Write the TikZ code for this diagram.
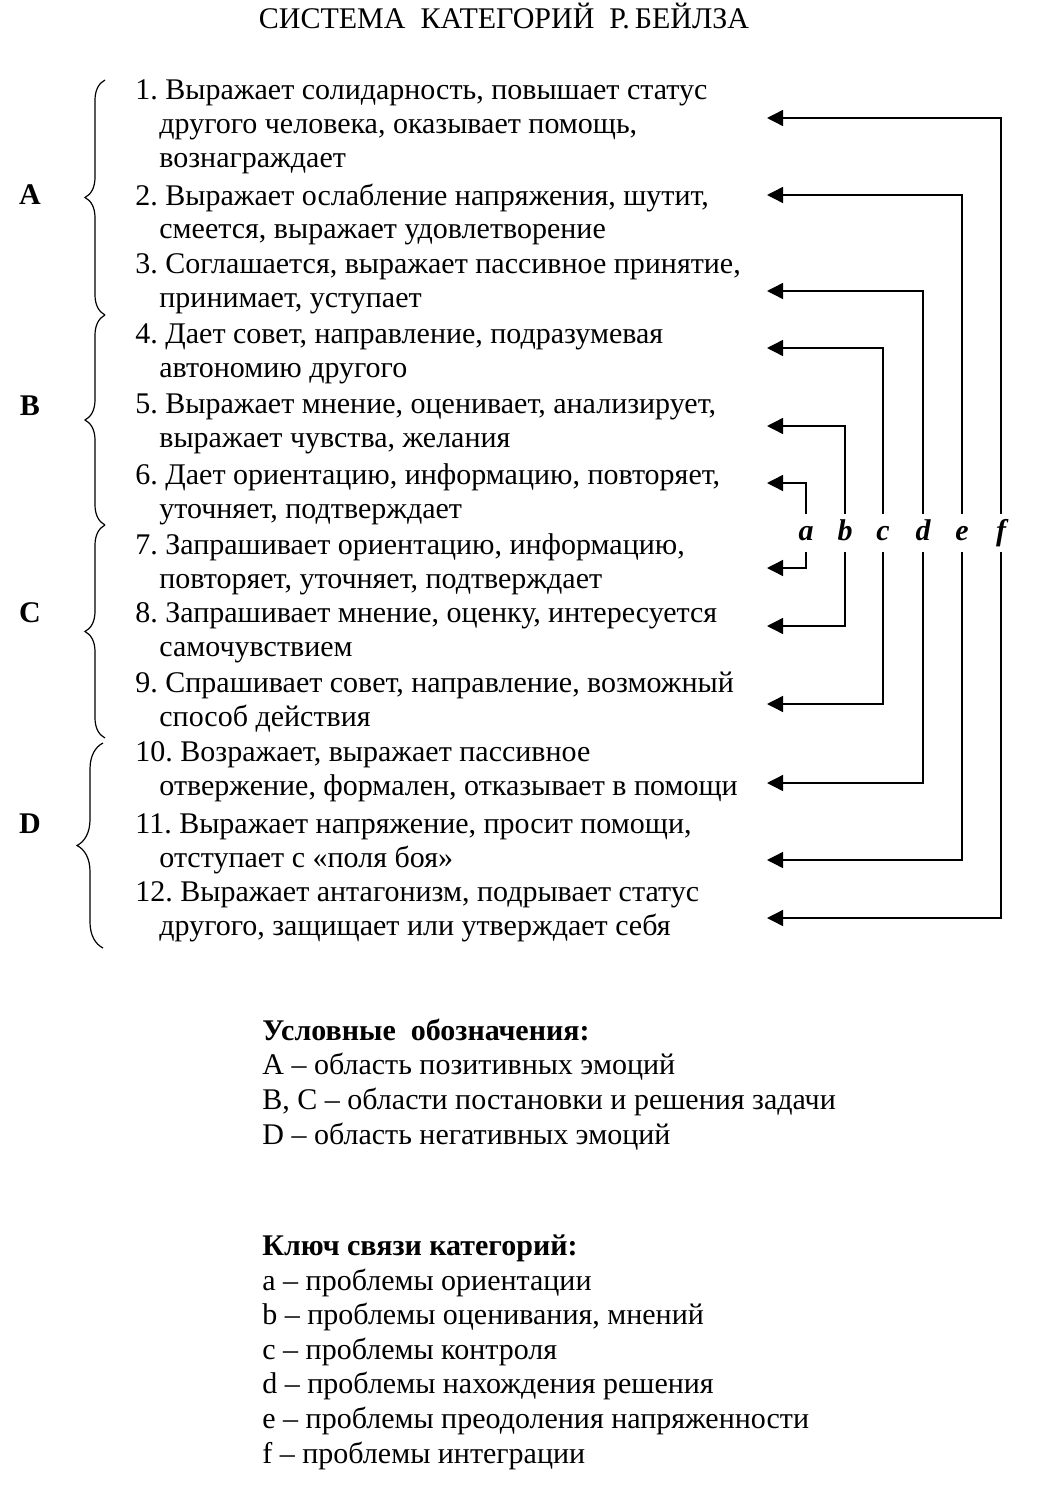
\documentclass[tikz,border=0pt]{standalone}
\usepackage{fontspec}
\setmainfont{Liberation Serif}
\usetikzlibrary{arrows.meta, positioning, decorations.pathreplacing}
\newcommand{\contline}{\hspace*{12pt}}

\begin{document}
\frenchspacing
\begin{tikzpicture}[x=0.5pt, y=-0.5pt,
    every node/.style={inner sep=0pt},
    itemtext/.style={anchor=base west, align=left, font=\fontsize{15}{17}\selectfont},
    grouplabel/.style={anchor=base, font=\fontsize{15}{17}\selectfont\bfseries},
    keyletter/.style={minimum height=19pt, text height=7pt, text depth=0pt,
                      font=\fontsize{15}{17}\selectfont\bfseries\itshape},
    keyarrow/.style={-{Triangle[length=8pt, width=8pt]}, line width=0.7pt},
    groupbrace/.style={decorate, decoration={brace, amplitude=#1}, line width=0.6pt},
    groupbrace/.default=10pt,
    legendtext/.style={anchor=base west, align=left, font=\fontsize{15}{17.3}\selectfont}]
  \useasboundingbox (0,0) rectangle (1051,1498);

  % Title (multi-line nodes sit on their last baseline)
  \node[anchor=base, font=\fontsize{15}{17}\selectfont] (title) at (504,29)
    {СИСТЕМА\ \ КАТЕГОРИЙ\ \ Р.\,БЕЙЛЗА};

  % Categories
  \node[itemtext] (it1) at (135,168) {1. Выражает солидарность, повышает статус\\
    \contline другого человека, оказывает помощь,\\ \contline вознаграждает};
  \node[itemtext] (it2) at (135,239) {2. Выражает ослабление напряжения, шутит,\\
    \contline смеется, выражает удовлетворение};
  \node[itemtext] (it3) at (135,307) {3. Соглашается, выражает пассивное принятие,\\
    \contline принимает, уступает};
  \node[itemtext] (it4) at (135,377) {4. Дает совет, направление, подразумевая\\
    \contline автономию другого};
  \node[itemtext] (it5) at (135,447) {5. Выражает мнение, оценивает, анализирует,\\
    \contline выражает чувства, желания};
  \node[itemtext] (it6) at (135,518) {6. Дает ориентацию, информацию, повторяет,\\
    \contline уточняет, подтверждает};
  \node[itemtext] (it7) at (135,588) {7. Запрашивает ориентацию, информацию,\\
    \contline повторяет, уточняет, подтверждает};
  \node[itemtext] (it8) at (135,656) {8. Запрашивает мнение, оценку, интересуется\\
    \contline самочувствием};
  \node[itemtext] (it9) at (135,726) {9. Спрашивает совет, направление, возможный\\
    \contline способ действия};
  \node[itemtext] (it10) at (135,795) {10. Возражает, выражает пассивное\\
    \contline отвержение, формален, отказывает в помощи};
  \node[itemtext] (it11) at (135,867) {11. Выражает напряжение, просит помощи,\\
    \contline отступает с «поля боя»};
  \node[itemtext] (it12) at (135,935) {12. Выражает антагонизм, подрывает статус\\
    \contline другого, защищает или утверждает себя};

  % Groups
  \draw[groupbrace] (105,315) -- (105,80);
  \draw[groupbrace] (105,525) -- (105,315);
  \draw[groupbrace] (105,738) -- (105,525);
  \draw[groupbrace=13pt] (103,948) -- (103,743);
  \foreach \g/\y in {A/205,B/415,C/622,D/833}
    \node[grouplabel] (grp\g) at (30,\y) {\g};

  % Key lines
  \foreach \k/\x in {a/806,b/845,c/883,d/923,e/962,f/1001}
    \node[keyletter] (k\k) at (\x,533) {\k};
  \foreach \i/\y in {1/118,2/195,3/291,4/348,5/426,6/483,7/568,8/626,9/704,10/783,11/860,12/918}
    \coordinate (tip\i) at (767,\y);
  \foreach \k/\u/\l in {a/6/7,b/5/8,c/4/9,d/3/10,e/2/11,f/1/12} {
    \draw[keyarrow] (k\k.north) |- (tip\u);
    \draw[keyarrow] (k\k.south) |- (tip\l);
  }

  % Legend
  \node[legendtext] (legend) at (262,1144) {\textbf{Условные\ \ обозначения:}\\
    A – область позитивных эмоций\\
    B, C – области постановки и решения задачи\\
    D – область негативных эмоций};
  \node[legendtext] (keys) at (262,1463) {\textbf{Ключ связи категорий:}\\
    a – проблемы ориентации\\
    b – проблемы оценивания, мнений\\
    c – проблемы контроля\\
    d – проблемы нахождения решения\\
    e – проблемы преодоления напряженности\\
    f – проблемы интеграции};
\end{tikzpicture}
\end{document}
